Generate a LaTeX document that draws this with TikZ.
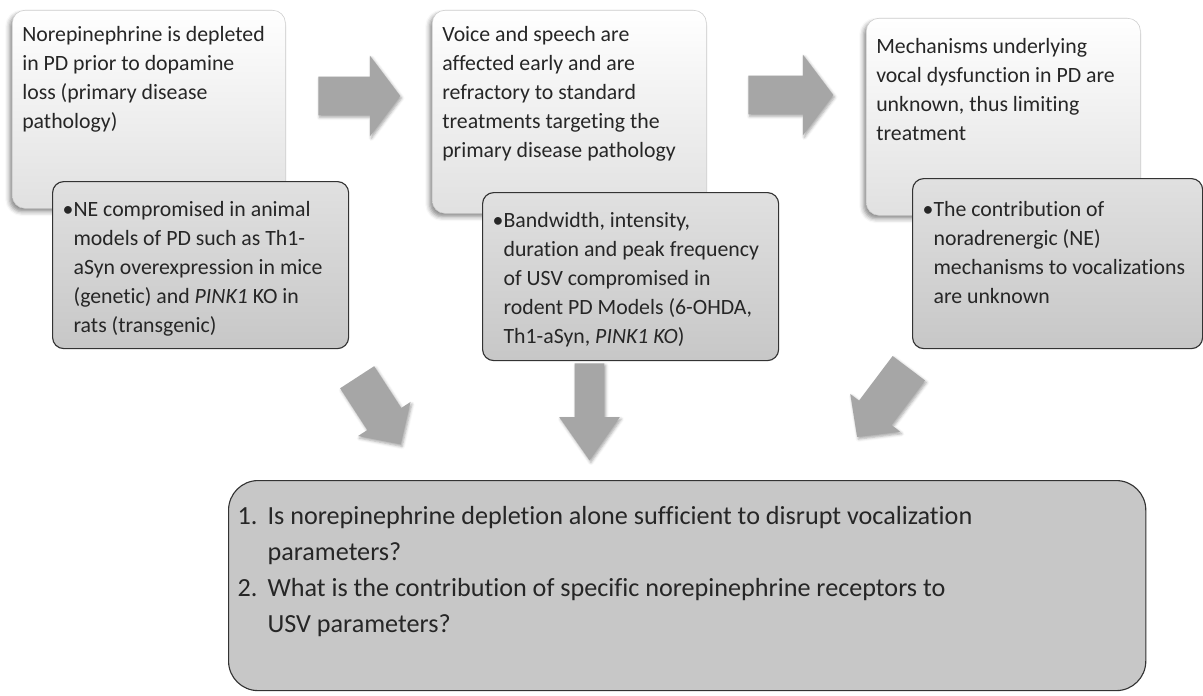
\documentclass[tikz,border=0pt]{standalone}
\usepackage{fontspec}
\setmainfont{Carlito}[Ligatures=NoCommon]
\usetikzlibrary{shapes.arrows,shadows.blur}

\begin{document}
\begin{tikzpicture}[
    x=0.025cm, y=-0.025cm,
    font=\fontsize{15.5}{20.6}\selectfont,
    every node/.style={text=black!85},
    whitebox/.style={anchor=north west, draw=black!20, rounded corners=9pt,
        top color=white, bottom color=black!12, inner xsep=0.25cm, inner ysep=0.275cm,
        blur shadow={shadow xshift=-2pt, shadow yshift=-2.5pt, shadow blur radius=3pt, shadow opacity=45}},
    graybox/.style={anchor=north west, draw=black!80, line width=0.8pt, rounded corners=8pt,
        top color=black!12, bottom color=black!22, inner xsep=0.525cm, inner ysep=0.375cm},
    questbox/.style={anchor=north west, draw=black!80, line width=0.8pt, rounded corners=21pt,
        fill=black!22, inner xsep=0.225cm, inner ysep=0.475cm,
        font=\fontsize{18.6}{25.6}\selectfont},
    fatarrow/.style={single arrow, anchor=tail, fill=black!35, draw=none, inner xsep=0pt,
        blur shadow={shadow xshift=1pt, shadow yshift=-1.5pt, shadow blur radius=2pt, shadow opacity=35}},
]
\useasboundingbox (0,0) rectangle (1203,696);

% top row
\node[whitebox] (top1) at (12,10) {\begin{minipage}[t][4.4cm][t]{6.325cm}
  \begin{tabular}[t]{@{}l@{}}
  Norepinephrine is depleted\\
  in PD prior to dopamine\\
  loss (primary disease\\
  pathology)
  \end{tabular}\end{minipage}};
\node[whitebox] (top2) at (432,10) {\begin{minipage}[t][4.525cm][t]{6.35cm}
  \begin{tabular}[t]{@{}l@{}}
  Voice and speech are\\
  affected early and are\\
  refractory to standard\\
  treatments targeting the\\
  primary disease pathology
  \end{tabular}\end{minipage}};
\node[whitebox] (top3) at (866,18) {\begin{minipage}[t][4.375cm][t]{6.35cm}
  \vspace{0.1cm}
  \begin{tabular}[t]{@{}l@{}}
  Mechanisms underlying\\
  vocal dysfunction in PD are\\
  unknown, thus limiting\\
  treatment
  \end{tabular}\end{minipage}};

% evidence boxes
\node[graybox] (ev1) at (52,181) {\begin{minipage}[t][3.425cm][t]{6.35cm}
  \begin{tabular}[t]{@{}l@{}}
  \llap{\textbullet}NE compromised in animal\\
  models of PD such as Th1-\\
  aSyn overexpression in mice\\
  (genetic) and \textit{PINK1} KO in\\
  rats (transgenic)
  \end{tabular}\end{minipage}};
\node[graybox] (ev2) at (482,192) {\begin{minipage}[t][3.45cm][t]{6.35cm}
  \begin{tabular}[t]{@{}l@{}}
  \llap{\textbullet}Bandwidth, intensity,\\
  duration and peak frequency\\
  of USV compromised in\\
  rodent PD Models (6-OHDA,\\
  Th1-aSyn, \textit{PINK1 KO})
  \end{tabular}\end{minipage}};
\node[graybox] (ev3) at (912,178) {\begin{minipage}[t][3.5cm][t]{6.2cm}
  \vspace{0.07cm}
  \begin{tabular}[t]{@{}l@{}}
  \llap{\textbullet}The contribution of\\
  noradrenergic (NE)\\
  mechanisms to vocalizations\\
  are unknown
  \end{tabular}\end{minipage}};

% questions
\node[questbox] (quest) at (228,480) {\begin{minipage}[t][4.3cm][t]{22.475cm}
  \begin{tabular}[t]{@{}p{0.75cm}@{}l@{}}
  1. & Is norepinephrine depletion alone sufficient to disrupt vocalization\\
     & parameters?\\
  2. & What is the contribution of specific norepinephrine receptors to\\
     & USV parameters?
  \end{tabular}\end{minipage}};

% block arrows
\node[fatarrow, inner ysep=0.475cm, minimum height=2.05cm, single arrow head extend=0.525cm,
  single arrow tip angle=106] (arr1) at (318,96) {};
\node[fatarrow, inner ysep=0.475cm, minimum height=2.125cm, single arrow head extend=0.525cm,
  single arrow tip angle=106] (arr2) at (748,95) {};
\node[fatarrow, rotate=-57, inner ysep=0.5cm, minimum height=2cm, single arrow head extend=0.275cm,
  single arrow tip angle=92] (arr3) at (357,377) {};
\node[fatarrow, rotate=-90, inner ysep=0.3625cm, minimum height=2.425cm, single arrow head extend=0.3875cm,
  single arrow tip angle=70] (arr4) at (589.5,363) {};
\node[fatarrow, rotate=-127, inner ysep=0.5cm, minimum height=2.15cm, single arrow head extend=0.275cm,
  single arrow tip angle=92] (arr5) at (909,368) {};

\end{tikzpicture}
\end{document}
